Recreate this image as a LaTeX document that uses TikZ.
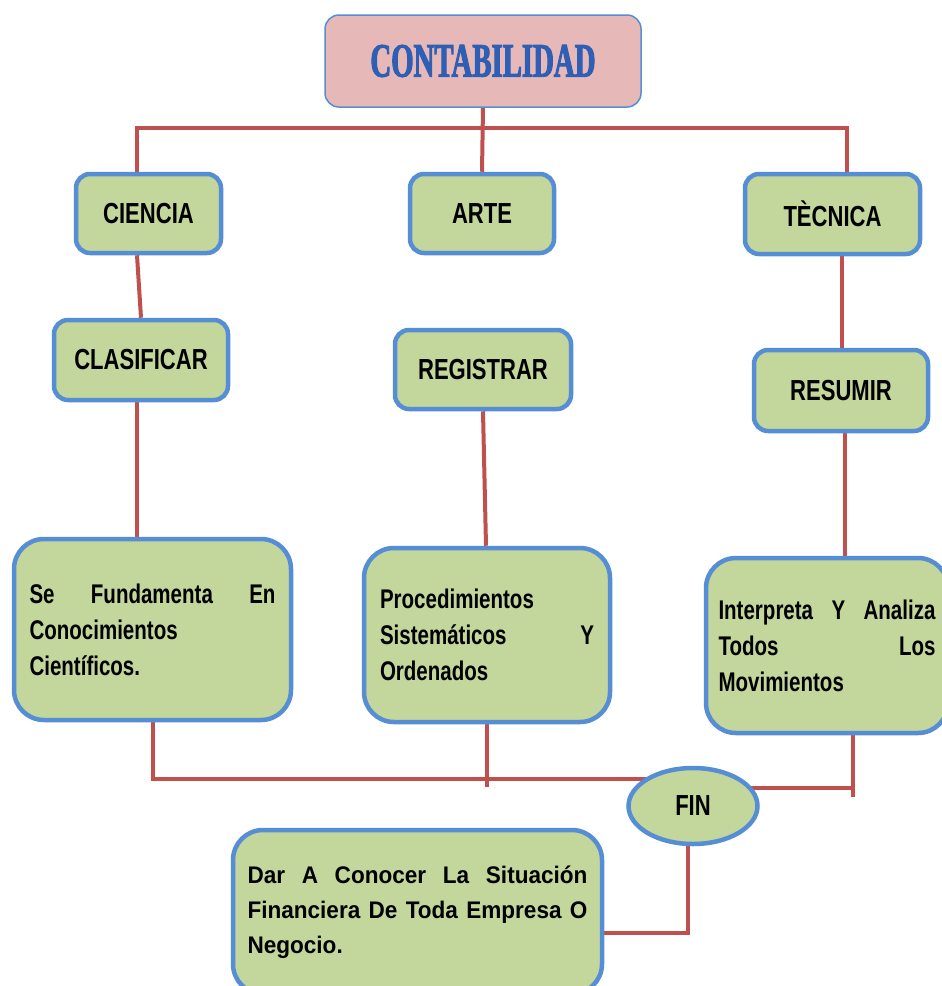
\documentclass[tikz,border=0pt]{standalone}
\usepackage{fontspec}
\setmainfont{Liberation Sans}[FakeStretch=0.76]
\newfontfamily\lowfont{Liberation Sans}[FakeStretch=0.94]
\newfontfamily\titlefont{Liberation Serif}[FakeStretch=0.6,FakeBold=2]
\usetikzlibrary{shapes.geometric,calc,backgrounds}
\definecolor{boxfill}{HTML}{C3D69B}
\definecolor{boxline}{HTML}{558ED5}
\definecolor{linkred}{HTML}{C0504D}
\definecolor{titlefill}{HTML}{E6B9B8}
\definecolor{titleblue}{HTML}{2F5FB4}
\begin{document}
\begin{tikzpicture}[x=1pt,y=-1pt,
  box/.style={draw=boxline, line width=4.5pt, fill=boxfill, rounded corners=14pt,
    font=\bfseries\fontsize{29}{34}\selectfont, inner sep=0pt},
  bigbox/.style={draw=boxline, line width=4.5pt, fill=boxfill, rounded corners=30pt,
    font=\bfseries\fontsize{27}{36}\selectfont, align=left, inner sep=0pt},
  link/.style={draw=linkred, line width=4pt}]
\useasboundingbox (0,0) rectangle (942,986);

\node[draw=boxline, line width=1.5pt, fill=titlefill, rounded corners=14pt,
  minimum width=316pt, minimum height=92pt, inner sep=0pt,
  text=titleblue, font=\titlefont\bfseries\fontsize{48}{50}\selectfont]
  (title) at (483,61) {CONTABILIDAD};

\node[box, minimum width=145pt, minimum height=79pt] (ciencia) at (148.5,213.5) {CIENCIA};
\node[box, minimum width=144pt, minimum height=79pt] (arte) at (482,213.5) {ARTE};
\node[box, minimum width=175pt, minimum height=80pt] (tecnica) at (832.5,214) {TÈCNICA};
\node[box, minimum width=174pt, minimum height=80pt] (clasif) at (141,360) {CLASIFICAR};
\node[box, minimum width=176pt, minimum height=79pt] (registrar) at (483,369.5) {REGISTRAR};
\node[box, minimum width=174pt, minimum height=81pt] (resumir) at (841,390.5) {RESUMIR};

\node[bigbox, minimum width=277pt, minimum height=181pt, text width=246pt]
  (fund) at (152.5,629.5) {Se\hfill Fundamenta\hfill En\\Conocimientos\\Científicos.};
\node[bigbox, minimum width=246pt, minimum height=174pt, text width=214pt]
  (proc) at (487,635) {Procedimientos\\Sistemáticos\hfill Y\\Ordenados};
\node[bigbox, minimum width=242pt, minimum height=175pt, text width=217pt]
  (interp) at (827,645.5) {Interpreta\hfill Y\hfill Analiza\\Todos\hfill Los\\Movimientos};

\node[ellipse, draw=boxline, line width=4.5pt, fill=boxfill, inner sep=0pt,
  minimum width=129pt, minimum height=76pt, font=\bfseries\fontsize{29}{34}\selectfont]
  (fin) at (693,806) {FIN};

\node[bigbox, minimum width=369pt, minimum height=164pt, text width=340pt,
  font=\lowfont\bfseries\fontsize{24}{35}\selectfont]
  (dar) at (417.5,912) {Dar\hfill A\hfill Conocer\hfill La\hfill Situación\\Financiera\hfill De\hfill Toda\hfill Empresa\hfill O\\Negocio.};

\begin{pgfonlayer}{background}
\fill[white] (0,0) rectangle (942,986);
\coordinate (jl) at (137,128);
\coordinate (jr) at (847,128);
\draw[link] (title.south) -- (arte.north);
\draw[link] (jl |- ciencia.north) -- (jl) -- (jr) -- (jr |- tecnica.north);
\draw[link] ($(ciencia.south)+(-11.5,0)$) -- (clasif.north);
\draw[link] ($(clasif.south)+(-4,0)$) -- ($(fund.north)+(-15.5,0)$);
\draw[link] (registrar.south) -- ($(proc.north)+(-1,0)$);
\draw[link] ($(tecnica.south)+(9.5,0)$) -- ($(resumir.north)+(1,0)$);
\draw[link] ($(resumir.south)+(4,0)$) -- ($(interp.north)+(18,0)$);
\coordinate (fl) at (660,779);
\draw[link] (fund.south) |- (fl);
\draw[link] (proc.south) -- ++(0,63);
\coordinate (fr) at (730,788);
\coordinate (rb) at (853,797);
\draw[link] (fr) -- (fr -| rb);
\draw[link] (interp.south -| rb) -- (rb);
\coordinate (fd) at (688,933);
\draw[link] (fin.south -| fd) -- (fd) -- (fd -| dar.east);
\end{pgfonlayer}
\end{tikzpicture}
\end{document}
